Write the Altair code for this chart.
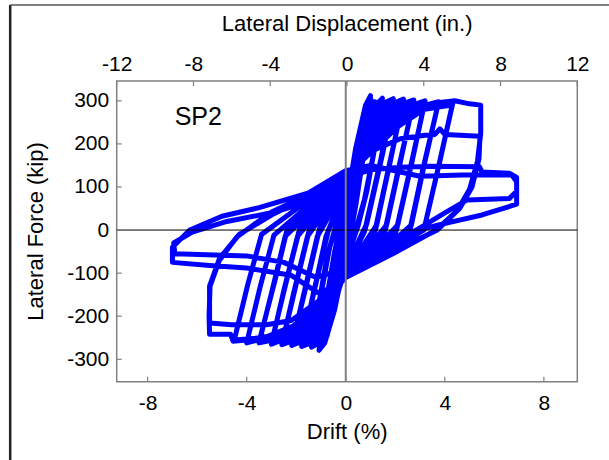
import altair as alt
import pandas as pd

# Axis tick values
drift_ticks = [-8, -4, 0, 4, 8]
disp_ticks = [-12, -8, -4, 0, 4, 8, 12]
force_ticks = [-300, -200, -100, 0, 100, 200, 300]

# Hysteresis record, one list of (drift %, lateral force kip) per cycle
cycle_025a = [(0, 0), (0.12, 55), (0.25, 112), (0.17, 75), (0.05, 10), (0, -12), (-0.12, -58),
              (-0.25, -108), (-0.17, -70), (-0.05, -8), (0, 8)]
cycle_025b = [(0.13, 60), (0.25, 110), (0.16, 68), (0, -15), (-0.13, -62), (-0.25, -105),
              (-0.15, -62), (0, 10)]
cycle_050a = [(0.25, 105), (0.5, 200), (0.38, 140), (0.12, 30), (0, -25), (-0.25, -100),
              (-0.5, -190), (-0.38, -130), (-0.12, -25), (0, 25)]
cycle_050b = [(0.27, 110), (0.5, 195), (0.36, 128), (0.1, 15), (0, -30), (-0.27, -105),
              (-0.5, -185), (-0.35, -118), (-0.1, -12), (0, 30)]
cycle_075a = [(0.35, 150), (0.75, 268), (0.58, 190), (0.25, 50), (0, -45), (-0.35, -140),
              (-0.75, -245), (-0.58, -170), (-0.25, -40), (0, 45)]
cycle_075b = [(0.37, 150), (0.75, 262), (0.55, 170), (0.2, 30), (0, -50), (-0.37, -145),
              (-0.75, -240), (-0.55, -155), (-0.2, -25), (0, 50)]
cycle_100a = [(0.4, 190), (0.8, 290), (1.0, 312), (0.8, 220), (0.45, 80), (0.2, 0), (0, -60),
              (-0.45, -185), (-0.85, -262), (-1.08, -279), (-0.85, -190), (-0.5, -70),
              (-0.2, 5), (0, 60)]
cycle_100b = [(0.45, 195), (0.85, 292), (1.02, 303), (0.78, 200), (0.4, 55), (0, -65),
              (-0.5, -190), (-0.9, -258), (-1.05, -270), (-0.82, -175), (-0.45, -50), (0, 65)]
cycle_100c = [(0.42, 185), (0.9, 290), (1.0, 298), (0.75, 185), (0.35, 40), (0, -70),
              (-0.5, -185), (-0.95, -255), (-1.02, -262), (-0.78, -160), (-0.4, -40), (0, 72)]
cycle_150a = [(0.5, 205), (0.9, 285), (1.15, 298), (1.3, 295), (1.48, 306), (1.2, 200),
              (0.85, 90), (0.5, 10), (0, -74), (-0.5, -190), (-0.95, -258), (-1.15, -264),
              (-1.38, -272), (-1.1, -175), (-0.75, -60), (-0.35, 20), (0, 78)]
cycle_150b = [(0.55, 205), (0.95, 280), (1.25, 290), (1.47, 300), (1.15, 185), (0.75, 70),
              (0.4, 0), (0, -78), (-0.55, -192), (-1.0, -252), (-1.38, -265), (-1.05, -165),
              (-0.7, -50), (-0.3, 25), (0, 82)]
cycle_150c = [(0.55, 200), (1.0, 276), (1.45, 292), (1.1, 170), (0.7, 55), (0.35, -10),
              (0, -82), (-0.6, -195), (-1.05, -248), (-1.36, -258), (-1.0, -150),
              (-0.65, -40), (-0.25, 30), (0, 86)]
cycle_200a = [(0.55, 195), (1.0, 265), (1.5, 293), (1.65, 298), (1.92, 305), (1.5, 180),
              (0.85, 15), (0.4, -40), (0, -86), (-0.55, -190), (-1.0, -245), (-1.4, -262),
              (-1.78, -270), (-1.35, -160), (-0.8, -15), (-0.35, 45), (0, 90)]
cycle_200b = [(0.58, 192), (1.05, 260), (1.5, 287), (1.9, 298), (1.45, 170), (0.8, 5),
              (0, -89), (-0.6, -192), (-1.05, -242), (-1.45, -258), (-1.75, -264),
              (-1.3, -145), (-0.75, -8), (0, 94)]
cycle_200c = [(0.6, 188), (1.1, 256), (1.55, 282), (1.88, 290), (1.4, 160), (0.75, -5),
              (0, -91), (-0.62, -190), (-1.1, -238), (-1.5, -252), (-1.72, -256),
              (-1.25, -135), (-0.7, 0), (0, 97)]
cycle_250a = [(0.6, 190), (1.15, 262), (1.8, 292), (2.0, 296), (2.33, 304), (1.85, 175),
              (1.25, 12), (0.6, -45), (0, -93), (-0.6, -185), (-1.15, -240), (-1.7, -260),
              (-1.95, -262), (-2.18, -268), (-1.7, -150), (-1.15, -15), (-0.5, 50), (0, 100)]
cycle_250b = [(0.65, 188), (1.2, 258), (1.8, 286), (2.3, 297), (1.8, 160), (1.2, 0),
              (0, -95), (-0.65, -185), (-1.2, -238), (-1.75, -256), (-2.15, -262),
              (-1.65, -140), (-1.1, -5), (0, 104)]
cycle_250c = [(0.7, 185), (1.25, 252), (1.85, 280), (2.28, 288), (1.75, 150), (1.15, -10),
              (0, -97), (-0.7, -183), (-1.25, -234), (-1.8, -250), (-2.12, -254),
              (-1.6, -130), (-1.05, 5), (0, 106)]
cycle_300a = [(0.7, 188), (1.3, 255), (2.0, 288), (2.4, 295), (2.75, 302), (2.25, 170),
              (1.65, 12), (0.8, -50), (0, -98), (-0.7, -180), (-1.3, -235), (-2.0, -258),
              (-2.3, -260), (-2.58, -266), (-2.1, -145), (-1.55, -15), (-0.7, 55), (0, 110)]
cycle_300b = [(0.75, 186), (1.35, 250), (2.05, 284), (2.72, 296), (2.2, 158), (1.6, 0),
              (0, -100), (-0.75, -180), (-1.35, -232), (-2.05, -254), (-2.55, -260),
              (-2.05, -135), (-1.5, -5), (0, 114)]
cycle_300c = [(0.8, 183), (1.4, 245), (2.1, 278), (2.7, 288), (2.15, 148), (1.55, -10),
              (0, -102), (-0.8, -178), (-1.4, -228), (-2.1, -248), (-2.52, -252),
              (-2.0, -125), (-1.45, 5), (0, 116)]
cycle_350a = [(0.8, 185), (1.5, 250), (2.3, 285), (2.9, 294), (3.2, 300), (2.7, 165),
              (2.1, 12), (1.0, -55), (0, -103), (-0.8, -178), (-1.5, -230), (-2.3, -255),
              (-2.7, -258), (-3.0, -265), (-2.5, -140), (-1.95, -15), (-0.9, 58), (0, 118)]
cycle_350b = [(0.85, 184), (1.55, 246), (2.35, 281), (3.18, 294), (2.65, 152), (2.05, 0),
              (0, -105), (-0.85, -177), (-1.55, -227), (-2.35, -251), (-2.98, -258),
              (-2.45, -130), (-1.9, -5), (0, 121)]
cycle_350c = [(0.9, 182), (1.6, 242), (2.4, 276), (3.15, 286), (2.6, 142), (2.0, -10),
              (0, -106), (-0.9, -175), (-1.6, -224), (-2.4, -246), (-2.95, -250),
              (-2.4, -120), (-1.85, 5), (0, 123)]
cycle_400a = [(0.9, 185), (1.7, 248), (2.6, 284), (3.4, 293), (3.75, 298), (3.2, 160),
              (2.65, 12), (1.3, -58), (0, -106), (-0.9, -175), (-1.7, -228), (-2.6, -253),
              (-3.1, -257), (-3.5, -262), (-2.95, -135), (-2.45, -15), (-1.1, 60), (0, 125)]
cycle_400b = [(0.95, 184), (1.75, 244), (2.65, 280), (3.73, 292), (3.15, 148), (2.6, 0),
              (0, -108), (-0.95, -174), (-1.75, -225), (-2.65, -250), (-3.48, -256),
              (-2.9, -125), (-2.4, -5), (0, 127)]
cycle_400c = [(1.0, 183), (1.8, 240), (2.7, 276), (3.7, 285), (3.1, 138), (2.55, -10),
              (0, -110), (-1.0, -172), (-1.8, -222), (-2.7, -246), (-3.45, -248),
              (-2.85, -115), (-2.35, 5), (0, 128)]
cycle_450a = [(1.0, 185), (1.9, 245), (2.9, 282), (3.8, 295), (4.0, 294), (4.33, 297),
              (3.8, 160), (3.2, 12), (1.6, -60), (0, -108), (-1.0, -172), (-1.9, -225),
              (-2.9, -250), (-3.6, -256), (-4.0, -262), (-3.45, -130), (-2.9, -12),
              (-1.4, 62), (0, 128)]
cycle_450b = [(1.05, 184), (1.95, 242), (2.95, 279), (4.3, 290), (3.75, 148), (3.15, 0),
              (0, -110), (-1.05, -171), (-1.95, -223), (-2.95, -248), (-4.5, -255),
              (-3.95, -125), (-3.4, -10), (-1.6, 65), (0, 130)]
cycle_550a = [(1.1, 185), (2.1, 240), (3.1, 278), (3.8, 296), (4.4, 300), (5.0, 293),
              (5.45, 290), (5.45, 225), (5.32, 160), (5.0, 95), (4.5, 45), (3.65, 0),
              (1.9, -55), (0, -110), (-1.1, -170), (-2.1, -222), (-3.2, -248), (-3.8, -254),
              (-4.55, -258), (-4.65, -242), (-5.5, -242), (-5.52, -200), (-5.48, -130),
              (-5.1, -70), (-4.4, -16), (-3.0, 42), (-1.5, 82), (0, 125)]
cycle_550b = [(1.1, 185), (2.2, 212), (3.2, 220), (3.6, 222), (3.8, 235), (4.0, 222),
              (5.42, 218), (5.38, 165), (5.1, 100), (4.6, 50), (3.7, 0), (1.9, -50),
              (0, -105), (-1.1, -165), (-2.2, -210), (-3.2, -220), (-4.6, -220),
              (-5.5, -216), (-5.5, -130), (-5.1, -66), (-4.3, -10), (-2.9, 38), (-1.4, 80),
              (0, 122)]
cycle_700a = [(1.0, 140), (2.2, 146), (3.35, 148), (5.4, 147), (5.5, 135), (6.6, 132),
              (6.9, 122), (6.9, 90), (6.6, 73), (4.9, 70), (4.0, 40), (3.0, 5), (1.5, -45),
              (0, -100), (-1.0, -150), (-2.2, -105), (-4.0, -88), (-5.5, -82), (-7.0, -75),
              (-7.0, -40), (-6.3, 0), (-5.0, 32), (-3.5, 52), (-1.5, 86), (0, 138)]
cycle_700b = [(1.0, 150), (3.0, 125), (4.7, 128), (6.7, 128), (6.9, 112), (6.9, 60),
              (5.5, 35), (3.75, 12), (2.95, 0), (1.5, -40), (0, -90), (-1.2, -110),
              (-2.5, -75), (-4.0, -60), (-6.9, -55), (-6.95, -30), (-6.2, -5), (-4.8, 20),
              (-3.0, 40), (-1.2, 70), (0, 100)]

cycles = [cycle_025a, cycle_025b, cycle_050a, cycle_050b, cycle_075a, cycle_075b,
          cycle_100a, cycle_100b, cycle_100c, cycle_150a, cycle_150b, cycle_150c,
          cycle_200a, cycle_200b, cycle_200c, cycle_250a, cycle_250b, cycle_250c,
          cycle_300a, cycle_300b, cycle_300c, cycle_350a, cycle_350b, cycle_350c,
          cycle_400a, cycle_400b, cycle_400c, cycle_450a, cycle_450b,
          cycle_550a, cycle_550b, cycle_700a, cycle_700b]

rows = []
for cyc in cycles:
    for d, f in cyc:
        rows.append({"i": len(rows), "drift": d, "force": f})
loops_df = pd.DataFrame(rows)

W, H = 460.6, 300.7
FONT = "Liberation Sans"
FRAME = "#808080"
PLAIN_MINUS = "'' + datum.value"

x_scale = alt.Scale(domain=[-9.25, 9.35], nice=False, zero=False)
y_scale = alt.Scale(domain=[-352, 346], nice=False, zero=False)
disp_scale = alt.Scale(domain=[-12, 12], nice=False, zero=False)

bottom_axis = alt.Axis(values=drift_ticks, tickSize=0, domain=False, grid=False,
                       labelFontSize=21, labelFont=FONT, labelColor="black",
                       labelBaseline="alphabetic", labelPadding=28, labelFlush=False,
                       labelExpr=PLAIN_MINUS,
                       title="Drift (%)", titleFontSize=22, titleFont=FONT,
                       titleFontWeight="normal", titleColor="black",
                       titleBaseline="alphabetic", titleX=230, titleY=57)
left_axis = alt.Axis(values=force_ticks, tickSize=0, domain=False, grid=False,
                     labelFontSize=21, labelFont=FONT, labelColor="black",
                     labelPadding=8, labelFlush=False, labelExpr=PLAIN_MINUS,
                     title="Lateral Force (kip)", titleFontSize=22, titleFont=FONT,
                     titleFontWeight="normal", titleColor="black",
                     titleAngle=-90, titleBaseline="middle", titleAlign="center",
                     titleX=-81, titleY=150)
top_axis = alt.Axis(orient="top", values=disp_ticks, tickSize=0, domain=False, grid=False,
                    labelFontSize=21, labelFont=FONT, labelColor="black",
                    labelBaseline="alphabetic", labelPadding=11, labelFlush=False,
                    labelOverlap=False, labelBound=False, labelExpr=PLAIN_MINUS,
                    title="Lateral Displacement (in.)", titleFontSize=22, titleFont=FONT,
                    titleFontWeight="normal", titleColor="black",
                    titleBaseline="alphabetic", titleX=230, titleY=-51)

loops = alt.Chart(loops_df).mark_line(
    color="#0000ff", strokeWidth=5, strokeJoin="round", strokeCap="round"
).encode(
    x=alt.X("drift:Q", scale=x_scale, axis=bottom_axis),
    y=alt.Y("force:Q", scale=y_scale, axis=left_axis),
    order="i:Q",
)

zero_df = pd.DataFrame({"drift": [0], "force": [0]})
v_zero = alt.Chart(zero_df).mark_rule(color=FRAME, strokeWidth=2).encode(
    x=alt.X("drift:Q", scale=x_scale, title="Drift (%)"))
h_zero = alt.Chart(zero_df).mark_rule(color="black", strokeWidth=1).encode(
    y=alt.Y("force:Q", scale=y_scale, title="Lateral Force (kip)"))

bottom_ticks = alt.Chart(pd.DataFrame({"drift": drift_ticks})).mark_rule(
    color=FRAME, strokeWidth=1.2
).encode(x=alt.X("drift:Q", scale=x_scale, title="Drift (%)"),
         y=alt.value(H), y2=alt.value(H - 5))

left_ticks = alt.Chart(pd.DataFrame({"force": force_ticks})).mark_rule(
    color=FRAME, strokeWidth=1.2
).encode(y=alt.Y("force:Q", scale=y_scale, title="Lateral Force (kip)"),
         x=alt.value(0), x2=alt.value(5))

label = alt.Chart(pd.DataFrame({"name": ["SP2"]})).mark_text(
    font=FONT, fontSize=25, align="left", baseline="alphabetic", color="black"
).encode(x=alt.value(58), y=alt.value(44), text="name:N")

# Figure border (left and top edges)
border_left = alt.Chart(zero_df).mark_rule(color="#222222", strokeWidth=2.5).encode(
    x=alt.value(-106.5), y=alt.value(-76), y2=alt.value(H + 80))
border_top = alt.Chart(zero_df).mark_rule(color="#555555", strokeWidth=1.5).encode(
    x=alt.value(-106.5), x2=alt.value(W + 40), y=alt.value(-76))

main = alt.layer(loops, h_zero, v_zero, bottom_ticks, left_ticks, label,
                 border_left, border_top)

top_ticks = alt.Chart(pd.DataFrame({"disp": disp_ticks})).mark_rule(
    color=FRAME, strokeWidth=1.2
).encode(x=alt.X("disp:Q", scale=disp_scale, axis=top_axis),
         y=alt.value(0), y2=alt.value(5))

chart = alt.layer(main, top_ticks).resolve_scale(x="independent").properties(
    width=W, height=H,
    autosize=alt.AutoSizeParams(type="none"),
    padding={"left": 116.7, "top": 81, "right": 609 - 116.7 - W, "bottom": 460 - 81 - H},
    background="white",
).configure_view(stroke=FRAME, strokeWidth=1.5)

chart.save("out.html", embed_options={"renderer": "svg", "actions": False})
